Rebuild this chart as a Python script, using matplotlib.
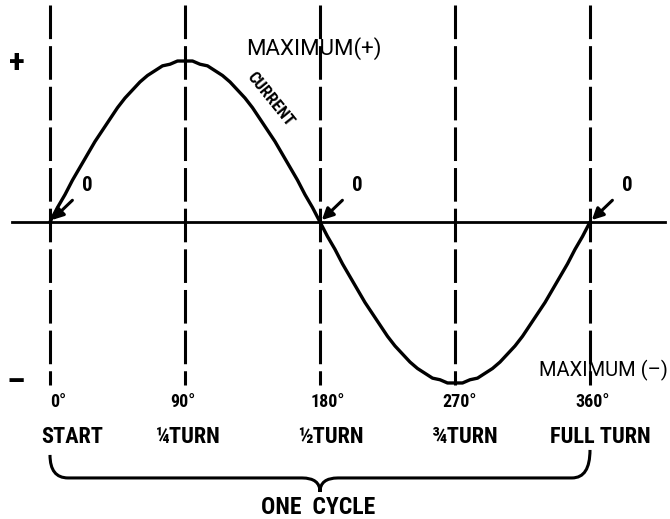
import numpy as np
import matplotlib.pyplot as plt
from matplotlib.path import Path
from matplotlib.patches import PathPatch

# Angle markers (degrees) and their labels
angles = [0, 90, 180, 270, 360]
degree_labels = ['0°', '90°', '180°', '270°', '360°']
turn_labels = ['START', '¼TURN', '½TURN', '¾TURN', 'FULL TURN']

# Current curve, every 5 degrees from 0 to 360
curve_deg = list(range(0, 365, 5))
curve_val = [
    0.00, 0.09, 0.17, 0.26, 0.34, 0.42, 0.50, 0.57, 0.64, 0.71, 0.77, 0.82,
    0.87, 0.91, 0.94, 0.97, 0.98, 1.00, 1.00, 1.00, 0.98, 0.97, 0.94, 0.91,
    0.87, 0.82, 0.77, 0.71, 0.64, 0.57, 0.50, 0.42, 0.34, 0.26, 0.17, 0.09,
    0.00, -0.09, -0.17, -0.26, -0.34, -0.42, -0.50, -0.57, -0.64, -0.71, -0.77, -0.82,
    -0.87, -0.91, -0.94, -0.97, -0.98, -1.00, -1.00, -1.00, -0.98, -0.97, -0.94, -0.91,
    -0.87, -0.82, -0.77, -0.71, -0.64, -0.57, -0.50, -0.42, -0.34, -0.26, -0.17, -0.09,
    0.00,
]

# Zero crossings marked with "0" arrows
zero_points = [0, 180, 360]

fig = plt.figure(figsize=(6.7, 5.19), dpi=100)
ax = fig.add_axes([0, 0, 1, 1])
ax.set_xlim(-33.33, 413.33)
ax.set_ylim(-1.845, 1.379)
ax.axis('off')

font = ['Roboto Condensed', 'DejaVu Sans']
wide = ['Roboto', 'DejaVu Sans']

# current curve
ax.plot(curve_deg, curve_val, color='black', lw=2.4, solid_capstyle='round', solid_joinstyle='round')

# horizontal axis
ax.plot([-25, 410], [0, 0], color='black', lw=2.0)

# dashed vertical lines
for a in angles:
    ax.plot([a, a], [1.35, -1.01], color='black', lw=2.2, dashes=(11, 2.3))

# +/- signs
ax.text(-22, 0.99, '+', fontsize=24, fontweight='bold', ha='center', va='center', family=font)
ax.text(-23, -1.0, '–', fontsize=24, fontweight='bold', ha='center', va='center', family=font)

# labels under the lines
deg_offsets = [5.5, -1.5, 5, 3, 2]
turn_offsets = [15, 2, 7, 7, 7]
for a, d, t, do, to in zip(angles, degree_labels, turn_labels, deg_offsets, turn_offsets):
    ax.text(a + do, -1.12, d, fontsize=13, fontweight='bold', ha='center', va='center', family=font)
    ax.text(a + to, -1.335, t, fontsize=16, fontweight='bold', ha='center', va='center', family=font)

# zero arrows
for z in zero_points:
    ax.annotate('0', xy=(z + 1.2, 0.012), xytext=(z + 25, 0.225),
                fontsize=15, fontweight='bold', ha='center', va='center', family=font,
                arrowprops=dict(arrowstyle='-|>', color='black', lw=2.2,
                                mutation_scale=17, shrinkA=7, shrinkB=0))

# annotations
ax.text(176, 1.08, 'MAXIMUM(+)', fontsize=16, ha='center', va='center', family=wide)
ax.text(412, -0.92, 'MAXIMUM (–)', fontsize=14.5, ha='right', va='center', family=wide)
ax.text(147, 0.76, 'CURRENT', fontsize=12, fontweight='bold', rotation=-51,
        ha='center', va='center', family=font)

# brace for one cycle
yb, yt, ytip = -1.59, -1.447, -1.677
verts = [(0, yt), (0, yb), (12, yb),
         (168, yb), (180, yb), (180, ytip),
         (180, yb), (192, yb),
         (348, yb), (360, yb), (360, -1.416)]
codes = [Path.MOVETO, Path.CURVE3, Path.CURVE3,
         Path.LINETO, Path.CURVE3, Path.CURVE3,
         Path.CURVE3, Path.CURVE3,
         Path.LINETO, Path.CURVE3, Path.CURVE3]
ax.add_patch(PathPatch(Path(verts, codes), facecolor='none', edgecolor='black', lw=2.2))

ax.text(179, -1.775, 'ONE  CYCLE', fontsize=17, fontweight='bold', ha='center', va='center', family=font)

fig.savefig('out.png', dpi=100)
